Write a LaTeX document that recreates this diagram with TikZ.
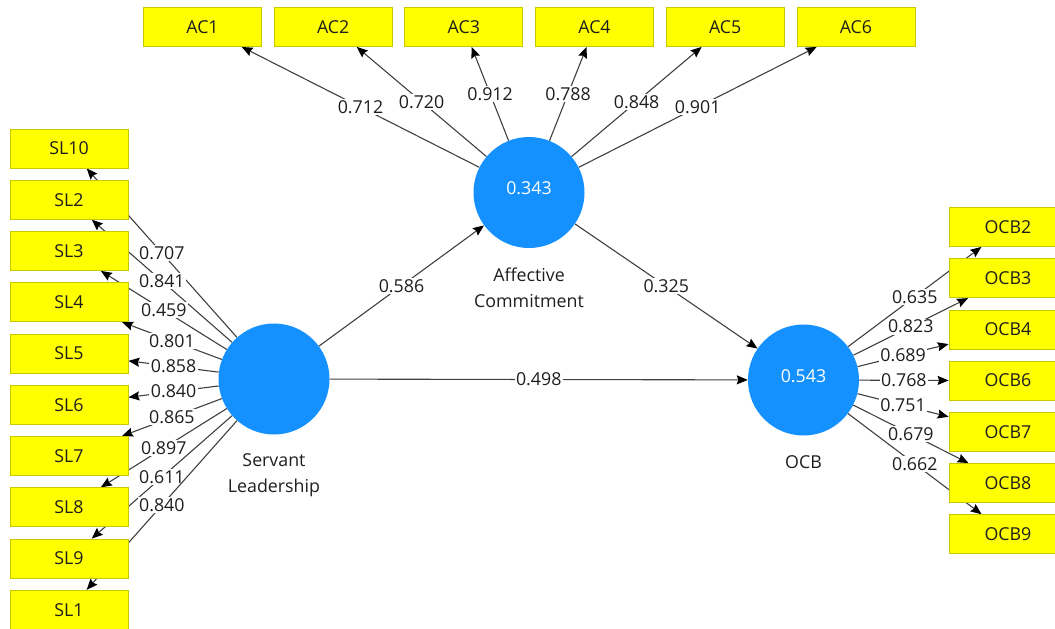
\documentclass[tikz,border=0pt]{standalone}
\usepackage{fontspec}
\setmainfont{Open Sans}
\usetikzlibrary{arrows.meta,backgrounds}
\definecolor{boxfill}{RGB}{255,255,0}
\definecolor{boxline}{RGB}{200,200,0}
\definecolor{lvfill}{RGB}{20,145,255}
\definecolor{linecol}{RGB}{64,64,64}
\definecolor{txt}{RGB}{30,30,30}
\begin{document}
\begin{tikzpicture}[x=1pt,y=-1pt,
  font=\fontsize{17.8}{26}\selectfont,
  ind/.style={draw=boxline, fill=boxfill, minimum width=118pt, minimum height=39pt, inner sep=0pt, text=txt, line width=0.8pt},
  lv/.style={circle, fill=lvfill, minimum size=111pt, inner sep=0pt},
  lvname/.style={align=center, text=txt, inner sep=0pt},
  ld/.style={draw=linecol, line width=1.1pt, -{Stealth[length=11pt,width=9pt,inset=1.5pt,color=black]}},
  lbl/.style={fill=white, inner sep=1.5pt, text=txt}]
\useasboundingbox (0,0) rectangle (1055,629);
\clip (0,0) rectangle (1055,629);
% latent variables
\node[lv, label={[text=white, yshift=4.5pt]center:0.343}] (acv) at (529,192.5) {};
\node[lv] (slv) at (274,379) {};
\node[lv, label={[text=white, yshift=4pt]center:0.543}] (ocbv) at (803.5,380) {};
\node[lvname] (acname) at (529,287.3) {Affective\\Commitment};
\node[lvname] (slname) at (274,475.5) {Servant\\Leadership};
\node[lvname] (ocbname) at (803.5,462) {OCB};
% AC indicators
\node[ind] (AC1) at (202.5,27) {AC1};
\node[ind] (AC2) at (333.2,27) {AC2};
\node[ind] (AC3) at (463.8,27) {AC3};
\node[ind] (AC4) at (594.5,27) {AC4};
\node[ind] (AC5) at (725.2,27) {AC5};
\node[ind] (AC6) at (855.9,27) {AC6};
% SL indicators
\node[ind] (SL10) at (69,148.5) {SL10};
\node[ind] (SL2) at (69,199.75) {SL2};
\node[ind] (SL3) at (69,251) {SL3};
\node[ind] (SL4) at (69,302.25) {SL4};
\node[ind] (SL5) at (69,353.5) {SL5};
\node[ind] (SL6) at (69,404.75) {SL6};
\node[ind] (SL7) at (69,456) {SL7};
\node[ind] (SL8) at (69,507.25) {SL8};
\node[ind] (SL9) at (69,558.5) {SL9};
\node[ind] (SL1) at (69,609.75) {SL1};
% OCB indicators
\node[ind] (OCB2) at (1008,227) {OCB2};
\node[ind] (OCB3) at (1008,278.2) {OCB3};
\node[ind] (OCB4) at (1008,329.4) {OCB4};
\node[ind] (OCB6) at (1008,380.6) {OCB6};
\node[ind] (OCB7) at (1008,431.8) {OCB7};
\node[ind] (OCB8) at (1008,483) {OCB8};
\node[ind] (OCB9) at (1008,534.2) {OCB9};
\begin{pgfonlayer}{background}
% structural paths
\draw[ld] (slv) -- node[lbl] {0.586} (acv);
\draw[ld] (acv) -- node[lbl] {0.325} (ocbv);
\draw[ld] (slv) -- node[lbl] {0.498} (ocbv);
% AC loadings
\draw[ld] (acv) -- node[lbl] {0.712} (AC1);
\draw[ld] (acv) -- node[lbl] {0.720} (AC2);
\draw[ld] (acv) -- node[lbl] {0.912} (AC3);
\draw[ld] (acv) -- node[lbl] {0.788} (AC4);
\draw[ld] (acv) -- node[lbl] {0.848} (AC5);
\draw[ld] (acv) -- node[lbl] {0.901} (AC6);
% SL loadings
\draw[ld] (slv) -- node[lbl] {0.707} (SL10);
\draw[ld] (slv) -- node[lbl] {0.841} (SL2);
\draw[ld] (slv) -- node[lbl] {0.459} (SL3);
\draw[ld] (slv) -- node[lbl] {0.801} (SL4);
\draw[ld] (slv) -- node[lbl] {0.858} (SL5);
\draw[ld] (slv) -- node[lbl] {0.840} (SL6);
\draw[ld] (slv) -- node[lbl] {0.865} (SL7);
\draw[ld] (slv) -- node[lbl] {0.897} (SL8);
\draw[ld] (slv) -- node[lbl] {0.611} (SL9);
\draw[ld] (slv) -- node[lbl] {0.840} (SL1);
% OCB loadings
\draw[ld] (ocbv) -- node[lbl] {0.635} (OCB2);
\draw[ld] (ocbv) -- node[lbl] {0.823} (OCB3);
\draw[ld] (ocbv) -- node[lbl] {0.689} (OCB4);
\draw[ld] (ocbv) -- node[lbl] {0.768} (OCB6);
\draw[ld] (ocbv) -- node[lbl] {0.751} (OCB7);
\draw[ld] (ocbv) -- node[lbl] {0.679} (OCB8);
\draw[ld] (ocbv) -- node[lbl] {0.662} (OCB9);
\end{pgfonlayer}
\end{tikzpicture}
\end{document}
